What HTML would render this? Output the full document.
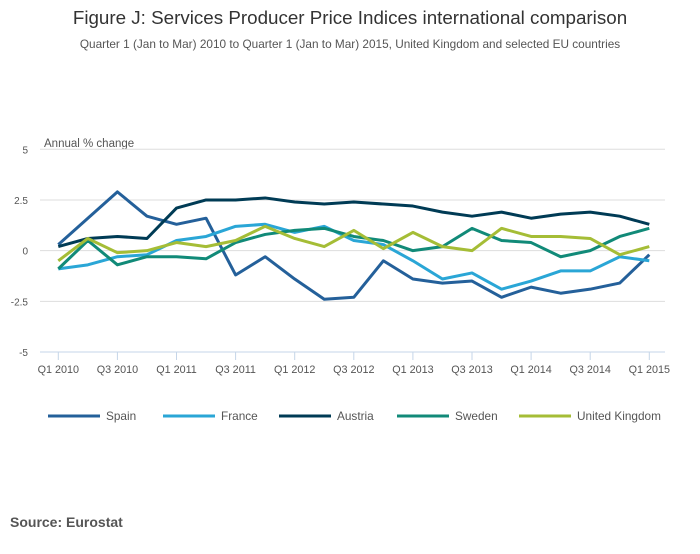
<!DOCTYPE html>
<html><head><meta charset="utf-8"><style>
body{margin:0;background:#fff;font-family:"Liberation Sans",sans-serif;}
svg text{font-family:"Liberation Sans",sans-serif;}
</style></head><body>
<svg id="chart" width="700" height="549">
<text x="350" y="24" text-anchor="middle" font-size="18.8" fill="#333">Figure J: Services Producer Price Indices international comparison</text>
<text x="350" y="48" text-anchor="middle" font-size="11.8" fill="#555">Quarter 1 (Jan to Mar) 2010 to Quarter 1 (Jan to Mar) 2015, United Kingdom and selected EU countries</text>
<text x="44" y="147" font-size="11.5" fill="#555">Annual % change</text>
<g id="grid"></g><g id="xaxis"></g><g id="series"></g><g id="legend"></g>
<text x="10" y="527" font-size="14" font-weight="bold" fill="#555">Source: Eurostat</text>
</svg>
<script>
const categories=["Q1 2010","Q2 2010","Q3 2010","Q4 2010","Q1 2011","Q2 2011","Q3 2011","Q4 2011","Q1 2012","Q2 2012","Q3 2012","Q4 2012","Q1 2013","Q2 2013","Q3 2013","Q4 2013","Q1 2014","Q2 2014","Q3 2014","Q4 2014","Q1 2015"];
const yTicks=[5,2.5,0,-2.5,-5];
const yTickLabels=["5","2.5","0","-2.5","-5"];
const seriesNames=["Spain","France","Austria","Sweden","United Kingdom"];
const spain=[0.3,1.6,2.9,1.7,1.3,1.6,-1.2,-0.3,-1.4,-2.4,-2.3,-0.5,-1.4,-1.6,-1.5,-2.3,-1.8,-2.1,-1.9,-1.6,-0.2];
const france=[-0.9,-0.7,-0.3,-0.2,0.5,0.7,1.2,1.3,0.9,1.2,0.5,0.3,-0.5,-1.4,-1.1,-1.9,-1.5,-1.0,-1.0,-0.3,-0.5];
const austria=[0.2,0.6,0.7,0.6,2.1,2.5,2.5,2.6,2.4,2.3,2.4,2.3,2.2,1.9,1.7,1.9,1.6,1.8,1.9,1.7,1.3];
const sweden=[-0.9,0.5,-0.7,-0.3,-0.3,-0.4,0.4,0.8,1.0,1.1,0.7,0.5,0.0,0.2,1.1,0.5,0.4,-0.3,0.0,0.7,1.1];
const uk=[-0.5,0.6,-0.1,0.0,0.4,0.2,0.5,1.2,0.6,0.2,1.0,0.1,0.9,0.2,0.0,1.1,0.7,0.7,0.6,-0.2,0.2];
const colors=["#24609a","#2aa6d6","#003b55","#118a78","#a5bd36"];
const allSeries=[spain,france,austria,sweden,uk];
const NS="http://www.w3.org/2000/svg";
const x0=58.3,x1=649.3,yTop=149.3,yBot=352;
function xs(i){return x0+i*(x1-x0)/(categories.length-1);}
function ys(v){return yBot-(v+5)/10*(yBot-yTop);}
function mk(tag,attrs,parent){const e=document.createElementNS(NS,tag);for(const k in attrs)e.setAttribute(k,attrs[k]);parent.appendChild(e);return e;}
const grid=document.getElementById('grid');
yTicks.forEach((t,i)=>{
  if(t>-5){const l=mk('line',{x1:40,x2:665,y1:ys(t),y2:ys(t),stroke:'#ddd','stroke-width':1},grid);
  
  }
  const tx=mk('text',{x:28,y:ys(t)+4,'text-anchor':'end','font-size':10,fill:'#555'},grid);
  tx.textContent=yTickLabels[i];
  
  
});
const xa=document.getElementById('xaxis');
const ax=mk('line',{x1:40,x2:665,y1:yBot,y2:yBot,stroke:'#c5d5e8','stroke-width':1},xa);


categories.forEach((c,i)=>{
  if(i%2)return;
  mk('line',{x1:xs(i),x2:xs(i),y1:yBot,y2:yBot+8,stroke:'#c5d5e8'},xa);
  const t=mk('text',{x:xs(i),y:yBot+21,'text-anchor':'middle','font-size':10.8,fill:'#555'},xa);
  t.textContent=c;
  
  
});
const sg=document.getElementById('series');
allSeries.forEach((s,k)=>{
  const p=mk('polyline',{points:s.map((v,i)=>xs(i)+','+ys(v)).join(' '),fill:'none',stroke:colors[k],'stroke-width':3,'stroke-linejoin':'round'},sg);
  
  
});
const lg=document.getElementById('legend');
const lx=[48,163,279,397,519];
seriesNames.forEach((n,k)=>{
  const g=mk('g',{},lg);
  
  
  mk('line',{x1:lx[k],x2:lx[k]+52,y1:416,y2:416,stroke:colors[k],'stroke-width':3},g);
  const t=mk('text',{x:lx[k]+58,y:420,'font-size':11.8,fill:'#555'},g);
  t.textContent=n;
});
</script>
</body></html>
